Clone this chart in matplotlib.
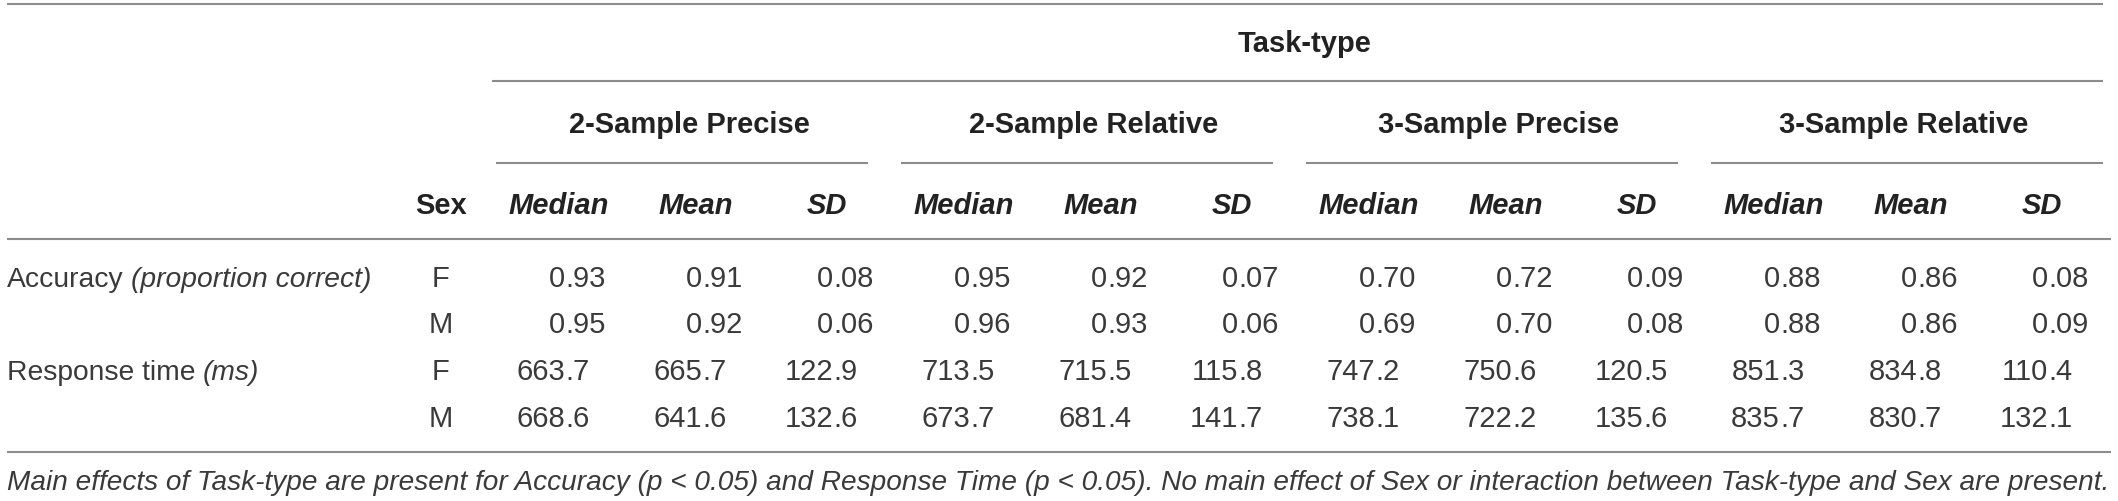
import matplotlib
matplotlib.use("Agg")
import matplotlib.pyplot as plt

plt.rcParams['font.family'] = ['Liberation Sans', 'DejaVu Sans']

# table content
groups = ['2-Sample Precise', '2-Sample Relative', '3-Sample Precise', '3-Sample Relative']
stats = ['Median', 'Mean', 'SD']
measures = ['Accuracy', 'Accuracy', 'Response time', 'Response time']
units = ['(proportion correct)', '', '(ms)', '']
sexes = ['F', 'M', 'F', 'M']
decimals = [2, 2, 1, 1]

acc_f = [0.93, 0.91, 0.08, 0.95, 0.92, 0.07, 0.70, 0.72, 0.09, 0.88, 0.86, 0.08]
acc_m = [0.95, 0.92, 0.06, 0.96, 0.93, 0.06, 0.69, 0.70, 0.08, 0.88, 0.86, 0.09]
rt_f = [663.7, 665.7, 122.9, 713.5, 715.5, 115.8, 747.2, 750.6, 120.5, 851.3, 834.8, 110.4]
rt_m = [668.6, 641.6, 132.6, 673.7, 681.4, 141.7, 738.1, 722.2, 135.6, 835.7, 830.7, 132.1]
rows = [acc_f, acc_m, rt_f, rt_m]

footnote = ("Main effects of Task-type are present for Accuracy (p < 0.05) and Response Time "
            "(p < 0.05). No main effect of Sex or interaction between Task-type and Sex are present.")

W, H = 2118, 502
fig = plt.figure(figsize=(W / 100, H / 100), dpi=100)
ax = fig.add_axes([0, 0, 1, 1])
ax.set_xlim(0, W)
ax.set_ylim(H, 0)
ax.axis('off')

fs = 21
body = '#3a3a3a'
head = '#222222'
rule = '#8c8c8c'

# layout (pixels)
left = 7
group_pitch = 405
dot0 = 565
stat_off = [0, 137, 268]
sex_x = 441
row_base = [287, 333, 380, 427]

def hline(y, x0, x1):
    ax.plot([x0, x1], [y, y], color=rule, lw=1.5, solid_capstyle='butt')

hline(5, left, 2103)
hline(82, 492, 2103)
for g in range(len(groups)):
    x0 = 496 + group_pitch * g
    x1 = 868 + group_pitch * g if g < len(groups) - 1 else 2103
    hline(163.5, x0, x1)
hline(239.5, left, 2111)
hline(453, left, 2111)

# headers
ax.text(1305, 52, 'Task-type', ha='center', va='baseline', fontsize=fs,
        fontweight='bold', color=head)
for g, name in enumerate(groups):
    cx = dot0 + group_pitch * g + 124
    ax.text(cx, 133, name, ha='center', va='baseline', fontsize=fs,
            fontweight='bold', color=head)
    for s, st in enumerate(stats):
        x = dot0 + group_pitch * g + stat_off[s] - 6
        ax.text(x, 214, st, ha='center', va='baseline', fontsize=fs,
                fontweight='bold', fontstyle='italic', color=head)
ax.text(sex_x, 214, 'Sex', ha='center', va='baseline', fontsize=fs,
        fontweight='bold', color=head)

fig.canvas.draw()
renderer = fig.canvas.get_renderer()

# body rows
for r, vals in enumerate(rows):
    yb = row_base[r]
    if units[r]:
        t = ax.text(left, yb, measures[r], ha='left', va='baseline', fontsize=fs * 0.97, color=body)
        x_end = t.get_window_extent(renderer).x1
        ax.text(x_end + 7, yb, units[r], ha='left', va='baseline', fontsize=fs * 0.97,
                fontstyle='italic', color=body)
    ax.text(sex_x, yb, sexes[r], ha='center', va='baseline', fontsize=fs, color=body)
    for i, v in enumerate(vals):
        g, s = divmod(i, 3)
        xd = dot0 + group_pitch * g + stat_off[s]
        ip, fp = f'{v:.{decimals[r]}f}'.split('.')
        ax.text(xd, yb, ip, ha='right', va='baseline', fontsize=fs, color=body)
        ax.text(xd, yb, '.' + fp, ha='left', va='baseline', fontsize=fs, color=body)

# footnote, shrunk to fit the table width
fn = ax.text(left, 490, footnote, ha='left', va='baseline', fontsize=fs,
             fontstyle='italic', color=body)
wpx = fn.get_window_extent(renderer).width
fn.set_fontsize(fs * (2108 - left) / wpx)

fig.savefig('out.png', dpi=100)
